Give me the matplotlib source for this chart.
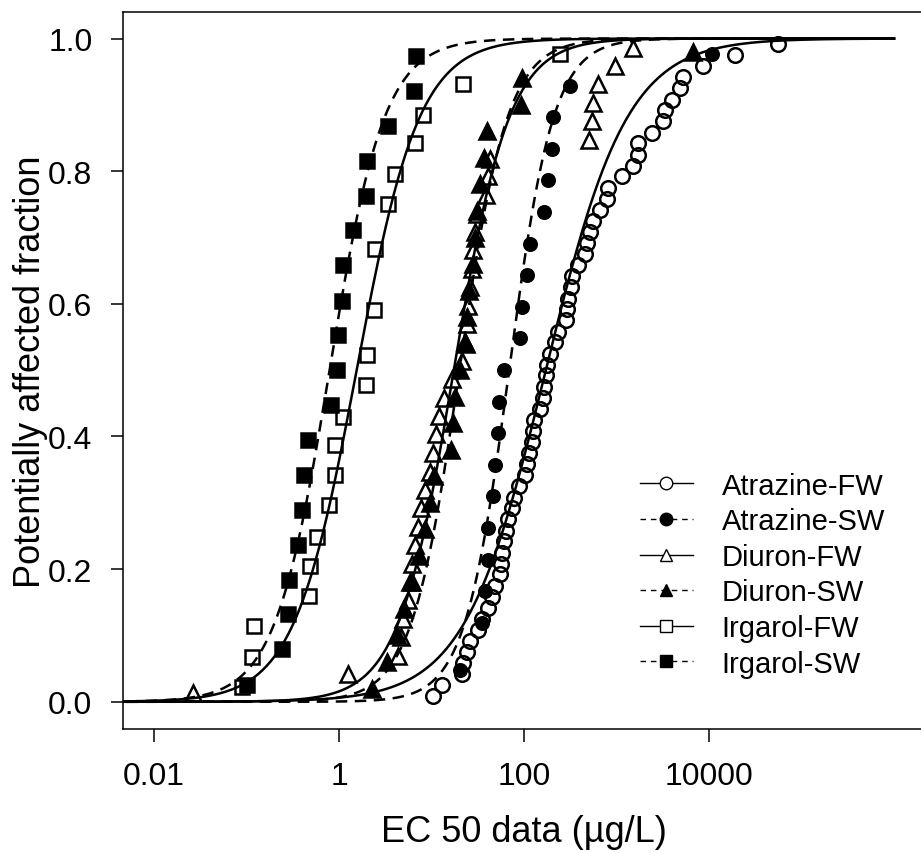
import numpy as np
import matplotlib
matplotlib.use("Agg")
import matplotlib.pyplot as plt
from matplotlib.lines import Line2D

plt.rcParams['font.family'] = ['Liberation Sans', 'DejaVu Sans']

# EC50 values (ug/L) with the plotted potentially affected fraction
atr_fw_ec50 = [10.4, 13.0, 21.4, 22.0, 24.2, 26.1, 31.8, 35.2, 40.8, 45.1,
               48.6, 55.0, 56.0, 57.8, 60.8, 63.8, 67.1, 74.1, 78.0, 88.3,
               103, 108, 113, 122, 125, 128, 149, 160, 164, 173,
               177, 191, 216, 233, 284, 292, 299, 322, 330, 384,
               456, 480, 517, 557, 664, 789, 809, 1146, 1507, 1706,
               1720, 2421, 3184, 3342, 3981, 4853, 5236, 8610, 19100, 55700]
atr_fw_paf = [0.008, 0.025, 0.042, 0.058, 0.075, 0.092, 0.108, 0.125, 0.142, 0.158,
              0.175, 0.192, 0.208, 0.225, 0.242, 0.258, 0.275, 0.292, 0.308, 0.325,
              0.342, 0.358, 0.375, 0.392, 0.408, 0.425, 0.442, 0.458, 0.475, 0.492,
              0.508, 0.525, 0.542, 0.558, 0.575, 0.592, 0.608, 0.625, 0.642, 0.658,
              0.675, 0.692, 0.708, 0.725, 0.742, 0.758, 0.775, 0.792, 0.808, 0.825,
              0.842, 0.858, 0.875, 0.892, 0.908, 0.925, 0.942, 0.958, 0.975, 0.992]

atr_sw_ec50 = [20.3, 35.2, 37.8, 40.5, 40.8, 46.2, 48.6, 52.4, 53.7, 60.8,
               90.6, 95.1, 108, 116, 164, 182, 201, 206, 314, 10770]
atr_sw_paf = [0.048, 0.119, 0.167, 0.214, 0.262, 0.310, 0.357, 0.405, 0.452, 0.500,
              0.548, 0.595, 0.643, 0.690, 0.738, 0.786, 0.833, 0.881, 0.929, 0.976]

diu_fw_ec50 = [0.0264, 1.25, 4.34, 4.68, 4.92, 5.57, 5.86, 6.15, 6.64, 7.15,
               7.69, 8.51, 9.64, 10.4, 11.2, 12.1, 13.6, 16.7, 21.4, 23.0,
               24.2, 24.8, 26.1, 27.4, 28.1, 29.5, 31.0, 38.8, 40.8, 42.9,
               505, 543, 557, 631, 964, 1507]
diu_fw_paf = [0.014, 0.042, 0.069, 0.097, 0.125, 0.153, 0.181, 0.208, 0.236, 0.264,
              0.292, 0.319, 0.347, 0.375, 0.403, 0.431, 0.458, 0.486, 0.514, 0.542,
              0.569, 0.597, 0.625, 0.653, 0.681, 0.708, 0.736, 0.764, 0.792, 0.819,
              0.847, 0.875, 0.903, 0.931, 0.958, 0.986]

diu_sw_ec50 = [2.28, 3.30, 4.24, 5.05, 6.15, 7.33, 8.51, 9.64, 10.6, 16.3,
               17.1, 17.9, 20.3, 23.6, 24.2, 25.4, 28.1, 29.5, 31.0, 33.4,
               37.0, 39.8, 92.9, 95.1, 6710]
diu_sw_paf = [0.02, 0.06, 0.10, 0.14, 0.18, 0.22, 0.26, 0.30, 0.34, 0.38,
              0.42, 0.46, 0.50, 0.54, 0.58, 0.62, 0.66, 0.70, 0.74, 0.78,
              0.82, 0.86, 0.90, 0.94, 0.98]

irg_fw_ec50 = [0.0893, 0.115, 0.120, 0.474, 0.485, 0.578, 0.78, 0.90, 0.91, 1.10,
               1.98, 2.01, 2.39, 2.45, 3.39, 4.03, 6.64, 8.09, 21.9, 245]
irg_fw_paf = [0.022, 0.068, 0.115, 0.160, 0.204, 0.249, 0.296, 0.342, 0.387, 0.430,
              0.478, 0.523, 0.591, 0.682, 0.750, 0.796, 0.842, 0.885, 0.932, 0.977]

irg_sw_ec50 = [0.101, 0.242, 0.281, 0.288, 0.361, 0.398, 0.419, 0.462, 0.82, 0.96,
               0.97, 1.08, 1.10, 1.42, 1.96, 2.01, 3.39, 6.47, 6.79]
irg_sw_paf = [0.026, 0.079, 0.132, 0.184, 0.237, 0.289, 0.342, 0.395, 0.447, 0.500,
              0.553, 0.605, 0.658, 0.711, 0.763, 0.816, 0.868, 0.921, 0.974]

# fitted log-logistic SSD curves: median EC50 (ug/L) and spread (log10 units)
series_names = ['Atrazine-FW', 'Atrazine-SW', 'Diuron-FW', 'Diuron-SW', 'Irgarol-FW', 'Irgarol-SW']
fit_x50 = [172, 69, 17.4, 20.0, 1.55, 0.79]
fit_scale = [0.44, 0.24, 0.30, 0.26, 0.34, 0.297]

points = [(atr_fw_ec50, atr_fw_paf), (atr_sw_ec50, atr_sw_paf),
          (diu_fw_ec50, diu_fw_paf), (diu_sw_ec50, diu_sw_paf),
          (irg_fw_ec50, irg_fw_paf), (irg_sw_ec50, irg_sw_paf)]

markers = ['o', 'o', '^', '^', 's', 's']
filled = [False, True, False, True, False, True]
msizes = [10.5, 9, 11, 11, 10, 10]
dash = (4.6, 3.0)

fig = plt.figure(figsize=(9.21, 8.54), dpi=100)
ax = fig.add_axes([0.1336, 0.1452, 0.8708, 0.8396])

xs = np.logspace(-2.5, 6, 600)
handles = []
for i in range(6):
    solid = not filled[i]
    yfit = 1.0 / (1.0 + np.exp(-(np.log10(xs) - np.log10(fit_x50[i])) / fit_scale[i]))
    if solid:
        ax.plot(xs, yfit, color='black', lw=1.8, zorder=2)
    else:
        ax.plot(xs, yfit, color='black', lw=1.8, dashes=dash, zorder=2)
    x, y = points[i]
    ax.plot(x, y, ls='none', marker=markers[i], ms=msizes[i],
            mfc='black' if filled[i] else 'none', mec='black', mew=1.8, zorder=3)
    # legend entry
    if solid:
        h = Line2D([], [], color='black', lw=1.0, marker=markers[i], ms=9,
                   mfc='white', mec='black', mew=1.0)
    else:
        h = Line2D([], [], color='black', lw=1.0, dashes=(4, 3.5), marker=markers[i],
                   ms=9, mfc='black', mec='black')
    handles.append(h)

ax.set_xscale('log')
ax.set_xlim(10 ** -2.335, 10 ** 6.335)
ax.set_ylim(-0.041, 1.040)

ax.set_xticks([0.01, 1, 100, 10000])
ax.set_xticklabels(['0.01', '1', '100', '10000'])
ax.xaxis.set_minor_locator(matplotlib.ticker.NullLocator())
ax.set_yticks([0.0, 0.2, 0.4, 0.6, 0.8, 1.0])
ax.set_yticklabels(['0.0', '0.2', '0.4', '0.6', '0.8', '1.0'])

ax.tick_params(axis='both', direction='out', length=9, width=1.1, labelsize=23)
ax.tick_params(axis='x', pad=14)
ax.tick_params(axis='y', pad=13)
for s in ['left', 'top', 'bottom']:
    ax.spines[s].set_linewidth(1.1)
ax.spines['right'].set_visible(False)

ax.set_xlabel('EC 50 data (\u00b5g/L)', fontsize=26)
ax.set_ylabel('Potentially affected fraction', fontsize=26)
ax.xaxis.set_label_coords(0.5, -0.1185)
ax.yaxis.set_label_coords(-0.094, 0.5)

fig.legend(handles, series_names, loc='center left', bbox_to_anchor=(0.695, 0.326),
           frameon=False, fontsize=21, handlelength=1.8, handletextpad=1.0,
           labelspacing=0.26, borderpad=0, borderaxespad=0, numpoints=1)

fig.savefig('out.png', dpi=100)
